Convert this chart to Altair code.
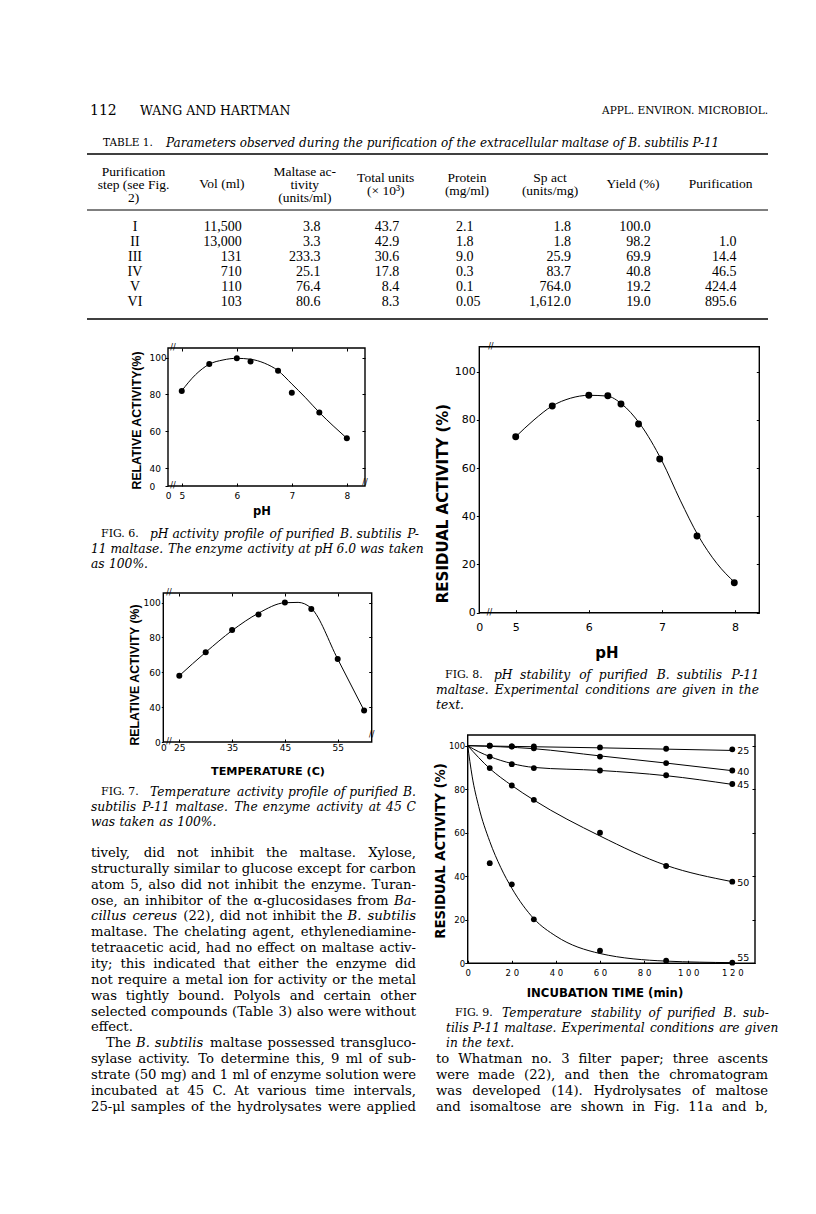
import altair as alt
import pandas as pd

W, H = 800, 1198


def px(v):
    return v - 8


SERIF = "DejaVu Serif"
TSERIF = "Liberation Serif"
SANS = "DejaVu Sans"
HELV = "Liberation Sans"

# ---------------- page header & table 1 ----------------
page_number = "112"
running_head = "WANG AND HARTMAN"
journal_head = "APPL. ENVIRON. MICROBIOL."
table_label = "TABLE 1."
table_title = ("Parameters observed during the purification of the extracellular "
               "maltase of B. subtilis P-11")
col_heads = [["Purification", "step (see Fig.", "2)"], ["Vol (ml)"],
             ["Maltase ac-", "tivity", "(units/ml)"], ["Total units", "(× 10³)"],
             ["Protein", "(mg/ml)"], ["Sp act", "(units/mg)"], ["Yield (%)"],
             ["Purification"]]
steps = ["I", "II", "III", "IV", "V", "VI"]
vol_ml = ["11,500", "13,000", "131", "710", "110", "103"]
maltase_act = ["3.8", "3.3", "233.3", "25.1", "76.4", "80.6"]
total_units = ["43.7", "42.9", "30.6", "17.8", "8.4", "8.3"]
protein = ["2.1", "1.8", "9.0", "0.3", "0.1", "0.05"]
sp_act = ["1.8", "1.8", "25.9", "83.7", "764.0", "1,612.0"]
yield_pct = ["100.0", "98.2", "69.9", "40.8", "19.2", "19.0"]
purification = ["", "1.0", "14.4", "46.5", "424.4", "895.6"]

# ---------------- Fig 6 ----------------
f6_ph = [5.0, 5.5, 6.0, 6.25, 6.75, 7.0, 7.5, 8.0]
f6_act = [81.8, 96.5, 99.7, 97.9, 92.9, 80.9, 70.2, 56.2]
f6_curve_ph = [5.0, 5.25, 5.5, 5.75, 6.0, 6.25, 6.5, 6.75, 7.0, 7.25, 7.5, 7.75, 8.0]
f6_curve_act = [82, 90.7, 96.4, 98.7, 99.6, 99.1, 97, 92.9, 85.7, 78.2, 70.2, 63, 56.2]
f6_xticks = [5, 6, 7, 8]
f6_yticks = [40, 60, 80, 100]

# ---------------- Fig 7 ----------------
f7_temp = [25, 30, 35, 40, 45, 50, 55, 60]
f7_act = [58, 71.5, 84.3, 93.3, 100.2, 96.4, 67.6, 38]
f7_curve_temp = [25, 30, 35, 40, 45, 47.5, 50, 55, 60]
f7_curve_act = [58, 71.5, 84, 94, 100, 100.2, 96.8, 67.6, 38]
f7_xticks = [25, 35, 45, 55]
f7_yticks = [40, 60, 80, 100]

# ---------------- Fig 8 ----------------
f8_ph = [5.0, 5.5, 6.0, 6.26, 6.44, 6.68, 6.97, 7.48, 7.99]
f8_act = [73, 85.8, 90.2, 90, 86.6, 78.3, 63.8, 31.8, 12.4]
f8_curve_ph = [5.0, 5.25, 5.5, 5.75, 6.0, 6.25, 6.45, 6.7, 7.0, 7.25, 7.5, 7.75, 8.0]
f8_curve_act = [73, 80, 85.8, 89, 90.2, 89.9, 86.6, 78.3, 63, 46.7, 31.8, 20.5, 12.4]
f8_xticks = [5, 6, 7, 8]
f8_yticks = [0, 20, 40, 60, 80, 100]

# ---------------- Fig 9 ----------------
f9_series = ["25", "40", "45", "50", "55"]
f9_time = [10, 20, 30, 60, 90, 120]
f9_act = {
    "25": [100, 99.7, 99.7, 99.2, 98.6, 98.3],
    "40": [100, 99.6, 98.8, 95.0, 92.0, 88.6],
    "45": [95.0, 91.5, 89.7, 88.6, 86.4, 82.4],
    "50": [89.7, 81.7, 75.1, 60.0, 44.7, 37.5],
    "55": [46.0, 36.3, 20.2, 5.8, 1.2, 0.3],
}
f9_curve_t = {
    "25": [0, 60, 120],
    "40": [0, 30, 60, 90, 120],
    "45": [0, 5, 10, 20, 30, 60, 90, 120],
    "50": [0, 10, 20, 30, 60, 90, 120],
    "55": [0, 2, 5, 10, 15, 20, 30, 40, 60, 90, 120],
}
f9_curve_v = {
    "25": [100, 99.0, 97.8],
    "40": [100, 98.6, 95.3, 92.0, 88.5],
    "45": [100, 97.2, 95.0, 91.8, 90.0, 88.6, 86.2, 82.2],
    "50": [100, 89.5, 81.7, 75.0, 58.5, 45.0, 37.5],
    "55": [100, 86, 72, 56, 44, 34.5, 20.5, 12.5, 4.5, 1.0, 0.3],
}
f9_xticks = [0, 20, 40, 60, 80, 100, 120]
f9_yticks = [0, 20, 40, 60, 80, 100]

# ---------------- running text (_word_ = italic) ----------------
body_left = [
    "tively, did not inhibit the maltase. Xylose,",
    "structurally similar to glucose except for carbon",
    "atom 5, also did not inhibit the enzyme. Turan-",
    "ose, an inhibitor of the α-glucosidases from _Ba-_",
    "_cillus_ _cereus_ (22), did not inhibit the _B._ _subtilis_",
    "maltase. The chelating agent, ethylenediamine-",
    "tetraacetic acid, had no effect on maltase activ-",
    "ity; this indicated that either the enzyme did",
    "not require a metal ion for activity or the metal",
    "was tightly bound. Polyols and certain other",
    "selected compounds (Table 3) also were without",
    "effect.",
    "The _B._ _subtilis_ maltase possessed transgluco-",
    "sylase activity. To determine this, 9 ml of sub-",
    "strate (50 mg) and 1 ml of enzyme solution were",
    "incubated at 45 C. At various time intervals,",
    "25-μl samples of the hydrolysates were applied",
]
body_left_para_end = [11]
body_right = [
    "to Whatman no. 3 filter paper; three ascents",
    "were made (22), and then the chromatogram",
    "was developed (14). Hydrolysates of maltose",
    "and isomaltose are shown in Fig. 11a and b,",
]
cap6 = ["FIG. 6.", "pH activity profile of purified B. subtilis P-",
        "11 maltase. The enzyme activity at pH 6.0 was taken", "as 100%."]
cap7 = ["FIG. 7.", "Temperature activity profile of purified B.",
        "subtilis P-11 maltase. The enzyme activity at 45 C", "was taken as 100%."]
cap8 = ["FIG. 8.", "pH stability of purified B. subtilis P-11",
        "maltase. Experimental conditions are given in the", "text."]
cap9 = ["FIG. 9.", "Temperature stability of purified B. sub-",
        "tilis P-11 maltase. Experimental conditions are given", "in the text."]

# ======================= build =======================
layers = []
texts = []


def T(t, x, y, size, font=SERIF, style="normal", weight="normal", align="left", angle=0):
    texts.append(dict(t=t, x=px(x), y=px(y), s=size, font=font, style=style,
                      weight=weight, align=align, a=angle))


# approximate DejaVu Serif advance widths (em) used only to spread justified words
_cw = {" ": .318, "a": .596, "b": .640, "c": .560, "d": .640, "e": .592, "f": .370,
       "g": .640, "h": .644, "i": .320, "j": .311, "k": .611, "l": .320, "m": .948,
       "n": .644, "o": .602, "p": .640, "q": .640, "r": .478, "s": .513, "t": .402,
       "u": .644, "v": .574, "w": .823, "x": .574, "y": .574, "z": .526,
       ".": .318, ",": .318, "-": .338, "(": .390, ")": .390, ";": .337, ":": .337,
       "%": .950, "α": .630, "μ": .650}
_caps = {"A": .722, "B": .685, "C": .716, "D": .778, "E": .683, "F": .656, "G": .770,
         "H": .845, "I": .398, "J": .398, "K": .731, "L": .636, "M": .952, "N": .820,
         "O": .787, "P": .628, "Q": .787, "R": .702, "S": .651, "T": .640, "U": .805,
         "V": .722, "W": 1.026, "X": .722, "Y": .688, "Z": .654}


def est_w(word, size, italic=False):
    tot = 0.0
    for ch in word:
        if ch.isdigit():
            tot += .636
        else:
            tot += _cw.get(ch, _caps.get(ch, .6))
    return tot * size * (1.03 if italic else 1.0)


def justify(line, x0, x1, y, size, base_style="normal", full=True):
    words = line.split(" ")
    styles = []
    clean = []
    for w in words:
        if w.startswith("_") and w.endswith("_") and len(w) > 2:
            clean.append(w[1:-1])
            styles.append("italic")
        else:
            clean.append(w)
            styles.append(base_style)
    n = len(clean)
    mingap = .27
    widths = [est_w(w, size, st == "italic") for w, st in zip(clean, styles)]
    if full and n > 1:
        gap = max((x1 - x0 - sum(widths)) / (n - 1), mingap * size)
    else:
        gap = .318 * size
    x = x0
    for i, (w, st) in enumerate(zip(clean, styles)):
        if full and i == n - 1 and n > 1:
            T(w, max(x1, x + widths[i]), y, size, style=st, align="right")
        else:
            T(w, x, y, size, style=st)
        x += widths[i] + gap


def ax(**kw):
    d = dict(grid=False, domain=False, title=None, tickColor="black", labelColor="black",
             labelFont=SANS, tickWidth=1, labelFlush=False, labelOverlap=False)
    d.update(kw)
    return alt.Axis(**d)


def figure(pts, curve, xdom, xpx, ydom, ypx, xvals, xexpr, yvals, yexpr, xticks, yticks,
           fs, xpad, ypad, ytick, yalign, psize, top_ticks, breaks=None, detail=False):
    xl, xr = xpx
    yb, yt = ypx

    def xs():
        return alt.Scale(domain=xdom, range=[px(xl), px(xr)], nice=False, zero=False)

    def ys():
        return alt.Scale(domain=ydom, range=[px(yb), px(yt)], nice=False, zero=False)

    frame = pd.DataFrame({"x0": [xdom[0]], "x1": [xdom[1]], "y0": [ydom[0]], "y1": [ydom[1]]})
    top_axis = ax(orient="bottom", offset=px(yt) - H, values=xticks, labels=False,
                  tickSize=3) if top_ticks else None
    fr = alt.Chart(frame).mark_rect(fill="white", fillOpacity=0, stroke="black",
                                    strokeWidth=1.4).encode(
        x=alt.X("x0:Q", scale=xs(), axis=top_axis), x2="x1:Q",
        y=alt.Y("y0:Q", scale=ys(), axis=None), y2="y1:Q")
    enc = dict(
        x=alt.X("x:Q", scale=xs(), axis=ax(orient="top", offset=-px(yb), values=xticks,
                                             labels=False, tickSize=3)),
        y=alt.Y("y:Q", scale=ys(), axis=ax(orient="left", offset=-px(xr), values=yticks,
                                             labels=False, tickSize=3)))
    if detail:
        enc["detail"] = "s:N"
    ln = alt.Chart(curve).mark_line(interpolate="monotone", color="black",
                                    strokeWidth=1).encode(**enc)
    pt = alt.Chart(pts).mark_circle(size=psize, color="black", opacity=1).encode(
        x=alt.X("x:Q", scale=xs(), axis=ax(orient="bottom", offset=px(yb) - H, values=xvals,
                                             labelExpr=xexpr, ticks=False, labelPadding=xpad,
                                             labelFontSize=fs)),
        y=alt.Y("y:Q", scale=ys(), axis=ax(orient="left", offset=-px(xl), values=yvals,
                                             labelExpr=yexpr, tickSize=ytick,
                                             labelPadding=ypad, labelFontSize=fs,
                                             labelAlign=yalign)))
    out = [fr, ln, pt]
    if breaks:
        bdf = pd.DataFrame({"x": [b[0] for b in breaks], "y": [b[1] for b in breaks],
                            "t": ["//"] * len(breaks)})
        out.append(alt.Chart(bdf).mark_text(font=SANS, fontSize=8, align="center",
                                             baseline="middle", color="black").encode(
            x=alt.X("x:Q", scale=xs(), axis=None), y=alt.Y("y:Q", scale=ys(), axis=None),
            text="t:N"))
    return out, xs, ys


# ---- Fig 6 ----
f6_xdom, f6_ydom = [4.75, 8.33], [30.3, 105.2]
lay, _, _ = figure(
    pd.DataFrame({"x": f6_ph, "y": f6_act}),
    pd.DataFrame({"x": f6_curve_ph, "y": f6_curve_act}),
    f6_xdom, (168, 365), f6_ydom, (486, 348),
    [f6_xdom[0]] + f6_xticks, "datum.value < 4.9 ? '0' : datum.label",
    [f6_ydom[0]] + f6_yticks, "datum.value < 35 ? '0' : datum.label",
    f6_xticks, f6_yticks, 9, 5, 16, 3, "left", 36, True,
    breaks=[(4.84, f6_ydom[1]), (4.84, f6_ydom[0]), (f6_xdom[1], 31.8)])
layers += lay
T("RELATIVE ACTIVITY(%)", 136.7, 420.5, 12.3, HELV, weight="bold", align="center", angle=270)
T("pH", 262, 512, 11.5, SANS, weight="bold", align="center")

# ---- Fig 7 ----
f7_xdom, f7_ydom = [21.97, 61.44], [19.86, 105.6]
lay, _, _ = figure(
    pd.DataFrame({"x": f7_temp, "y": f7_act}),
    pd.DataFrame({"x": f7_curve_temp, "y": f7_curve_act}),
    f7_xdom, (163.3, 371.7), f7_ydom, (742, 593),
    [f7_xdom[0]] + f7_xticks, "datum.value < 23 ? '0' : datum.label",
    [f7_ydom[0]] + f7_yticks, "datum.value < 25 ? '0' : datum.label",
    f7_xticks, f7_yticks, 9, 1, 1, 2, "right", 36, True,
    breaks=[(23.05, f7_ydom[1]), (23.05, f7_ydom[0]), (f7_xdom[1], 23.9)])
layers += lay
T("RELATIVE ACTIVITY (%)", 135, 675, 12.3, HELV, weight="bold", align="center", angle=270)
T("TEMPERATURE (C)", 268, 771.7, 11.2, SANS, weight="bold", align="center")

# ---- Fig 8 ----
f8_xdom, f8_ydom = [4.502, 8.332], [0, 110.37]
lay, _, _ = figure(
    pd.DataFrame({"x": f8_ph, "y": f8_act}),
    pd.DataFrame({"x": f8_curve_ph, "y": f8_curve_act}),
    f8_xdom, (479.3, 759.3), f8_ydom, (612.7, 346.7),
    [f8_xdom[0]] + f8_xticks, "datum.value < 4.9 ? '0' : datum.label",
    f8_yticks, "datum.label",
    f8_xticks, f8_yticks, 11, 9, 1, 3, "right", 48, False,
    breaks=[(4.66, f8_ydom[1]), (4.64, f8_ydom[0])])
layers += lay
T("RESIDUAL  ACTIVITY  (%)", 443, 503.5, 15, SANS, weight="bold", align="center", angle=270)
T("pH", 607, 652.7, 15, SANS, weight="bold", align="center")

# ---- Fig 9 ----
f9_xdom, f9_ydom = [0, 130.3], [0, 104.9]
pts9 = pd.DataFrame([{"s": s, "x": t, "y": v} for s in f9_series
                     for t, v in zip(f9_time, f9_act[s])])
crv9 = pd.DataFrame([{"s": s, "x": t, "y": v} for s in f9_series
                     for t, v in zip(f9_curve_t[s], f9_curve_v[s])])
spaced = {t: " ".join(str(t)) for t in f9_xticks}
x9expr = "datum.label"
for t in reversed(f9_xticks):
    x9expr = f"datum.value == {t} ? '{spaced[t]}' : ({x9expr})"
lay, xs9, ys9 = figure(
    pts9, crv9, f9_xdom, (467.7, 755), f9_ydom, (963.3, 735),
    f9_xticks, x9expr, f9_yticks, "datum.label",
    f9_xticks, f9_yticks, 8.5, 5, 0, 3, "right", 34, False, detail=True)
layers += lay
ends = pd.DataFrame({"s": f9_series, "t": [f9_curve_t[s][-1] for s in f9_series],
                     "v": [f9_curve_v[s][-1] for s in f9_series]})
layers.append(alt.Chart(ends[ends.s != "55"]).mark_text(
    align="left", baseline="middle", font=SANS, fontSize=9.5, dx=5, dy=1, color="black").encode(
    x=alt.X("t:Q", scale=xs9(), axis=None), y=alt.Y("v:Q", scale=ys9(), axis=None), text="s:N"))
layers.append(alt.Chart(ends[ends.s == "55"]).mark_text(
    align="left", baseline="middle", font=SANS, fontSize=9.5, dx=5, dy=-5, color="black").encode(
    x=alt.X("t:Q", scale=xs9(), axis=None), y=alt.Y("v:Q", scale=ys9(), axis=None), text="s:N"))
T("RESIDUAL ACTIVITY (%)", 440.7, 851, 13.2, SANS, weight="bold", align="center", angle=270)
T("INCUBATION TIME (min)", 605, 993.3, 11.7, SANS, weight="bold", align="center")

# ---- header ----
T(page_number, 90, 111, 14)
T(running_head, 140, 111, 12.5)
T(journal_head, 768, 111, 10.5, align="right")

# ---- table ----
T(table_label, 103, 143, 10.5)
T(table_title, 166, 143, 12, style="italic")
cx = [133.5, 221.9, 304.8, 385.7, 467, 550, 633, 720.6]
head_y = {3: [171.5, 184.5, 198], 2: [177.5, 191], 1: [184]}
for c, lines in zip(cx, col_heads):
    for ln_, yy in zip(lines, head_y[len(lines)]):
        T(ln_, c, yy, 13.5, TSERIF, align="center")
cols = [(steps, 135, "center"), (vol_ml, 241.8, "right"), (maltase_act, 320.6, "right"),
        (total_units, 399.3, "right"), (protein, 456, "left"), (sp_act, 571, "right"),
        (yield_pct, 650.8, "right"), (purification, 736.4, "right")]
for vals, xx, al in cols:
    for i, v in enumerate(vals):
        if v:
            T(v, xx, 226.7 + 15 * i, 14, TSERIF, align=al)
rules = pd.DataFrame({"x": [px(87)] * 3, "x2": [px(768)] * 3,
                      "y": [px(154), px(210), px(319)], "w": [1.6, 1.0, 1.6]})
layers.append(alt.Chart(rules).mark_rule(color="black").encode(
    x=alt.X("x:Q", scale=None, axis=None), x2="x2:Q",
    y=alt.Y("y:Q", scale=None, axis=None),
    strokeWidth=alt.StrokeWidth("w:Q", scale=None, legend=None)))


# ---- captions ----
def caption(lines, x_first, x_rest, x_other, x_end, y0, size):
    T(lines[0], x_first, y0, 11)
    justify(lines[1], x_rest, x_end, y0, size, "italic")
    rest = lines[2:]
    for i, ln_ in enumerate(rest):
        justify(ln_, x_other, x_end, y0 + 15 * (i + 1), size, "italic",
                full=(i < len(rest) - 1))


caption(cap6, 101, 150, 91, 419, 534, 12.3)
caption(cap7, 101, 150, 91, 416, 792, 12.3)
caption(cap8, 445, 494, 436, 759, 675, 12.3)
caption(cap9, 455, 502, 446, 769, 1013, 12.2)

# ---- body text ----
BODY = 13.2
LEAD = 15.85
for i, ln_ in enumerate(body_left):
    x0 = 106 if ln_.startswith("The _B._") else 91
    justify(ln_, x0, 416, 853 + LEAD * i, BODY, full=(i not in body_left_para_end))
for i, ln_ in enumerate(body_right):
    justify(ln_, 436, 768, 853 + LEAD * (13 + i), BODY)

tdf = pd.DataFrame(texts)
for (font, style, weight, align), g in tdf.groupby(["font", "style", "weight", "align"]):
    layers.append(alt.Chart(g.reset_index(drop=True)).mark_text(
        font=font, fontStyle=style, fontWeight=weight, align=align, baseline="middle",
        color="black").encode(
        x=alt.X("x:Q", scale=None, axis=None), y=alt.Y("y:Q", scale=None, axis=None),
        text="t:N", size=alt.Size("s:Q", scale=None, legend=None),
        angle=alt.Angle("a:Q", scale=None)))

chart = alt.layer(*layers).resolve_scale(x="independent", y="independent").properties(
    width=W, height=H, autosize=alt.AutoSizeParams(type="none"), padding=0
).configure_view(stroke=None)

chart.save("out.html", embed_options={"renderer": "svg", "actions": False})
